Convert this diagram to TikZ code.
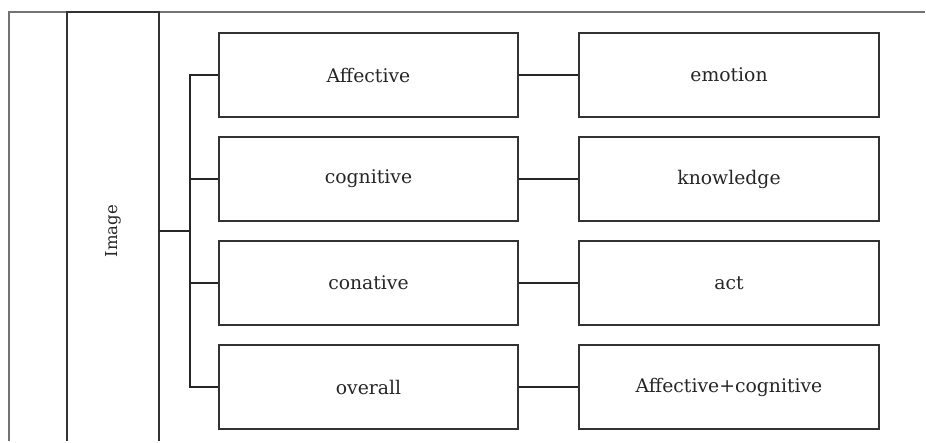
\documentclass[tikz,border=0pt]{standalone}
\usepackage{fontspec}
\setmainfont{DejaVu Serif}
\begin{document}
\begin{tikzpicture}[x=1pt,y=-1pt,
  framebox/.style={draw=black!80, line width=1.7pt, minimum width=299pt, minimum height=84pt, inner sep=0pt, font=\fontsize{18.8}{22}\selectfont, text=black!85},
  link/.style={draw=black!85, line width=1.8pt},
  outer/.style={draw=black!55, line width=1.3pt}]
\useasboundingbox (0,0) rectangle (926,443);
% outer frame (open at the bottom and right)
\draw[outer] (9,441) -- (9,12) -- (925,12);
% the tall "Image" column
\draw[draw=black!80, line width=1.7pt] (67,441) -- (67,12) -- (159,12) -- (159,441);
\node[rotate=90, font=\fontsize{16.5}{19}\selectfont, text=black!85] (img) at (113,231) {Image};
\coordinate (root) at (159,231);
\coordinate (spine) at (190,231);
% left and right boxes
\node[framebox] (l1) at (368.5,75) {Affective};
\node[framebox] (l2) at (368.5,179) {cognitive};
\node[framebox] (l3) at (368.5,283) {conative};
\node[framebox] (l4) at (368.5,387) {overall};
\node[framebox, minimum width=300pt] (r1) at (729,75) {emotion};
\node[framebox, minimum width=300pt] (r2) at (729,179) {knowledge};
\node[framebox, minimum width=300pt] (r3) at (729,283) {act};
\node[framebox, minimum width=300pt] (r4) at (729,387) {Affective+cognitive};
% bracket from the column to the left boxes
\draw[link] (root) -- (spine);
\draw[link] (l1.west) -| (spine);
\draw[link] (l4.west) -| (spine);
\draw[link] (l2.west) -- (l2.west -| spine);
\draw[link] (l3.west) -- (l3.west -| spine);
% links between the two columns
\foreach \i in {1,...,4} \draw[link] (l\i.east) -- (r\i.west);
\end{tikzpicture}
\end{document}
